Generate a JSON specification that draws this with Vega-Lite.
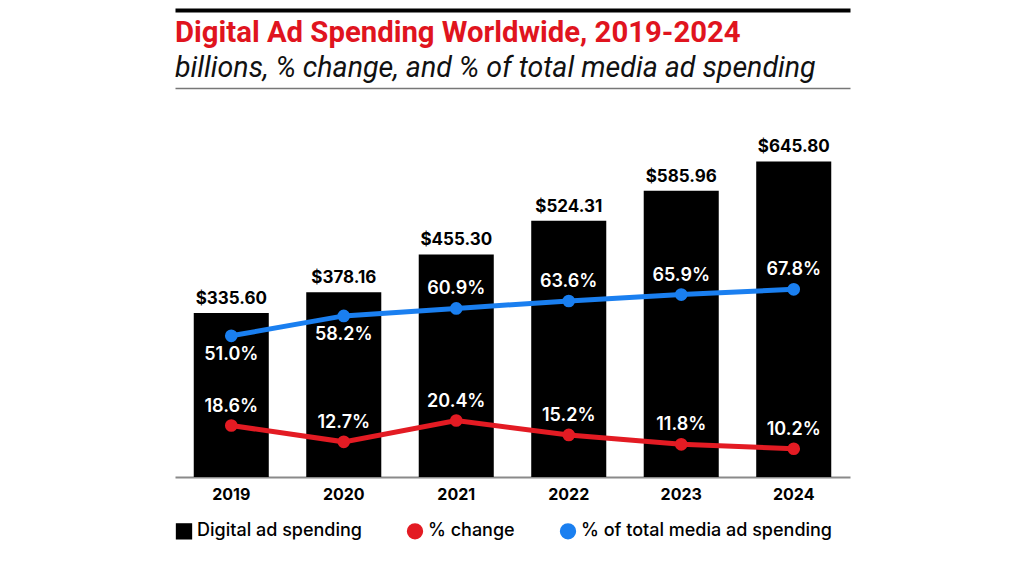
{
  "$schema": "https://vega.github.io/schema/vega-lite/v6.json",
  "width": 675,
  "height": 346,
  "autosize": "none",
  "padding": {"left": 175, "top": 131, "right": 174, "bottom": 84},
  "background": "white",
  "title": {
    "text": "Digital Ad Spending Worldwide, 2019-2024",
    "subtitle": "billions, % change, and % of total media ad spending",
    "anchor": "start",
    "frame": "group",
    "font": "Roboto",
    "fontSize": 29.3,
    "fontWeight": "bold",
    "color": "#e0141e",
    "subtitleFont": "Roboto",
    "subtitleFontSize": 28.6,
    "subtitleFontStyle": "italic",
    "subtitleColor": "#111111",
    "subtitlePadding": 6,
    "offset": -73
  },
  "config": {
    "view": {"stroke": null},
    "font": "Inter"
  },
  "data": {
    "values": [
      {"year": "2019", "spend": 335.60, "change": 0.186, "share": 0.510},
      {"year": "2020", "spend": 378.16, "change": 0.127, "share": 0.582},
      {"year": "2021", "spend": 455.30, "change": 0.204, "share": 0.609},
      {"year": "2022", "spend": 524.31, "change": 0.152, "share": 0.636},
      {"year": "2023", "spend": 585.96, "change": 0.118, "share": 0.659},
      {"year": "2024", "spend": 645.80, "change": 0.102, "share": 0.678}
    ]
  },
  "resolve": {"scale": {"y": "independent"}, "axis": {"x": "independent"}},
  "layer": [
    {
      "mark": {"type": "bar", "color": "black"},
      "encoding": {
        "x": {"field": "year", "type": "ordinal", "scale": {"paddingInner": 0.333, "paddingOuter": 0.1667},
              "axis": {"orient": "bottom", "title": null, "labelAngle": 0, "ticks": false, "labelFontSize": 16, "labelFontWeight": "bold", "labelColor": "black", "labelFont": "Inter", "domainColor": "#8a8a8a", "domainWidth": 2, "labelPadding": 9}},
        "y": {"field": "spend", "type": "quantitative", "scale": {"domain": [0, 708]}, "axis": null},
        "color": {"datum": "Digital ad spending", "type": "nominal",
                  "scale": {"domain": ["Digital ad spending", "% change", "% of total media ad spending"], "range": ["#000000", "#e31b23", "#1a7ff0"]},
                  "legend": {"title": null, "orient": "bottom", "direction": "horizontal", "labelFontSize": 18, "labelFont": "Inter", "labelFontWeight": 500, "labelColor": "black", "labelLimit": 400, "symbolSize": 220, "symbolOpacity": 1, "columnPadding": 42, "offset": 20,
                             "encode": {"symbols": {"update": {"shape": {"signal": "datum.label === 'Digital ad spending' ? 'square' : 'circle'"}}}}}}
      }
    },
    {
      "mark": {"type": "text", "baseline": "bottom", "dy": -5, "fontSize": 17, "fontWeight": "bold", "color": "black"},
      "encoding": {
        "x": {"field": "year", "type": "ordinal", "axis": null},
        "y": {"field": "spend", "type": "quantitative", "scale": {"domain": [0, 708]}, "axis": null},
        "text": {"field": "spend", "type": "quantitative", "format": "$,.2f"}
      }
    },
    {
      "mark": {"type": "line", "strokeWidth": 5},
      "encoding": {
        "x": {"field": "year", "type": "ordinal", "axis": {"orient": "top", "offset": 121, "labels": false, "ticks": false, "title": null, "domainColor": "black", "domainWidth": 4}},
        "y": {"field": "change", "type": "quantitative", "scale": {"domain": [0, 1.25]}, "axis": null},
        "color": {"datum": "% change", "type": "nominal"}
      }
    },
    {
      "mark": {"type": "point", "filled": true, "size": 160, "opacity": 1, "shape": "circle"},
      "encoding": {
        "x": {"field": "year", "type": "ordinal", "axis": null},
        "y": {"field": "change", "type": "quantitative", "scale": {"domain": [0, 1.25]}, "axis": null},
        "color": {"datum": "% change", "type": "nominal"}
      }
    },
    {
      "mark": {"type": "text", "baseline": "bottom", "dy": -10, "fontSize": 18, "fontWeight": 600, "color": "white"},
      "encoding": {
        "x": {"field": "year", "type": "ordinal", "axis": null},
        "y": {"field": "change", "type": "quantitative", "scale": {"domain": [0, 1.25]}, "axis": null},
        "text": {"field": "change", "type": "quantitative", "format": ".1%"}
      }
    },
    {
      "mark": {"type": "line", "strokeWidth": 5},
      "encoding": {
        "x": {"field": "year", "type": "ordinal", "axis": {"orient": "top", "offset": 43, "labels": false, "ticks": false, "title": null, "domainColor": "#777777", "domainWidth": 1.5}},
        "y": {"field": "share", "type": "quantitative", "scale": {"domain": [0, 1.25]}, "axis": null},
        "color": {"datum": "% of total media ad spending", "type": "nominal"}
      }
    },
    {
      "mark": {"type": "point", "filled": true, "size": 160, "opacity": 1, "shape": "circle"},
      "encoding": {
        "x": {"field": "year", "type": "ordinal", "axis": null},
        "y": {"field": "share", "type": "quantitative", "scale": {"domain": [0, 1.25]}, "axis": null},
        "color": {"datum": "% of total media ad spending", "type": "nominal"}
      }
    },
    {
      "transform": [{"filter": "datum.year >= '2021'"}],
      "mark": {"type": "text", "baseline": "bottom", "dy": -10, "fontSize": 18, "fontWeight": 600, "color": "white"},
      "encoding": {
        "x": {"field": "year", "type": "ordinal", "axis": null},
        "y": {"field": "share", "type": "quantitative", "scale": {"domain": [0, 1.25]}, "axis": null},
        "text": {"field": "share", "type": "quantitative", "format": ".1%"}
      }
    },
    {
      "transform": [{"filter": "datum.year < '2021'"}],
      "mark": {"type": "text", "baseline": "top", "dy": 10, "fontSize": 18, "fontWeight": 600, "color": "white"},
      "encoding": {
        "x": {"field": "year", "type": "ordinal", "axis": null},
        "y": {"field": "share", "type": "quantitative", "scale": {"domain": [0, 1.25]}, "axis": null},
        "text": {"field": "share", "type": "quantitative", "format": ".1%"}
      }
    }
  ]
}
